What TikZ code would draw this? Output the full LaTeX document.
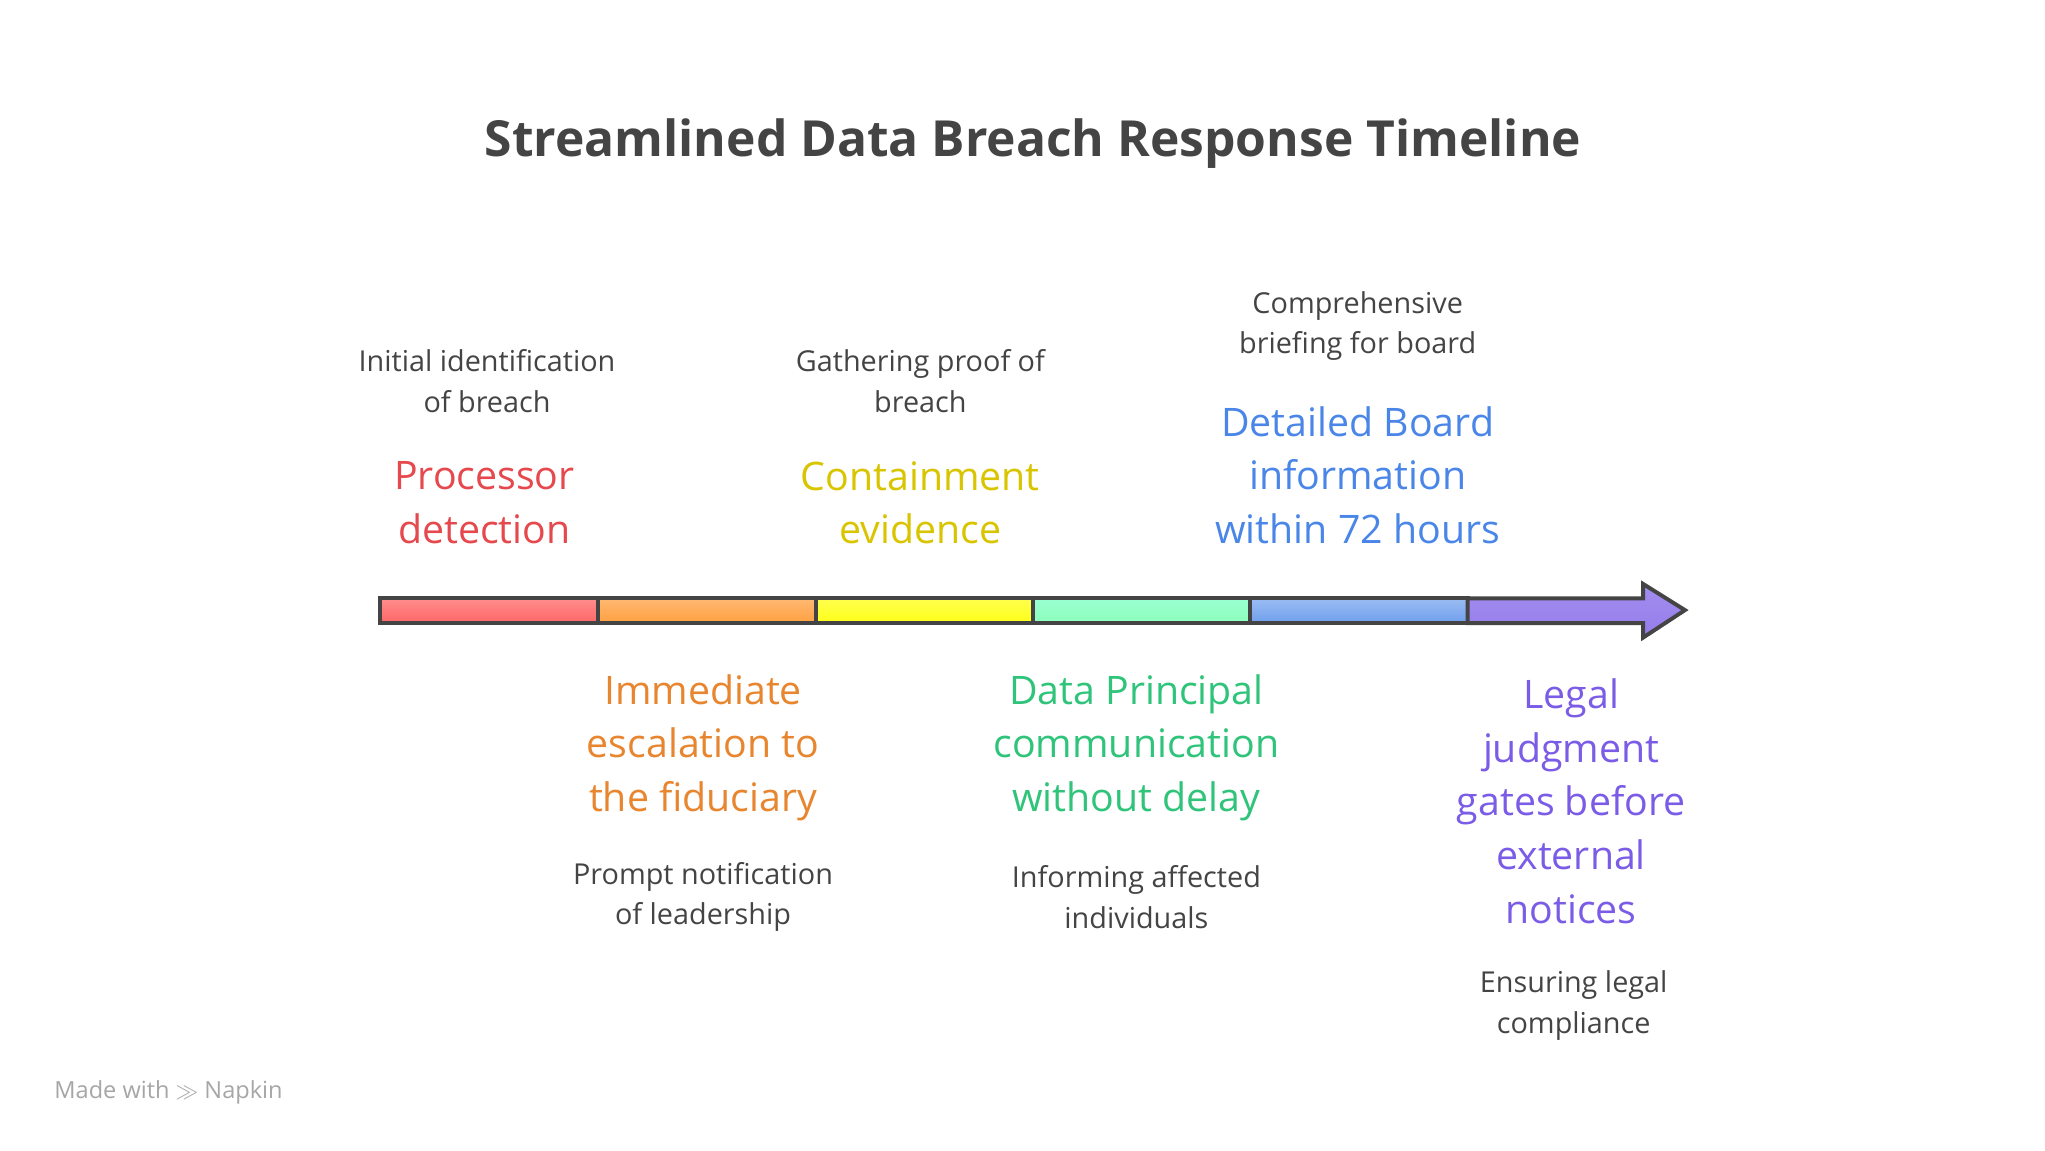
\documentclass[tikz,border=0pt]{standalone}
\usepackage{fontspec}
\setmainfont{Open Sans}
\usetikzlibrary{positioning, calc}
\definecolor{cred}{HTML}{E5484D}
\definecolor{corange}{HTML}{E8852F}
\definecolor{cyellow}{HTML}{D9C400}
\definecolor{cgreen}{HTML}{2FC47A}
\definecolor{cblue}{HTML}{4A86E8}
\definecolor{cpurple}{HTML}{7B5CE6}
\definecolor{ctext}{HTML}{444444}
\tikzset{
    head/.style={align=center, font=\fontsize{30}{41}\selectfont, text=#1},
    desc/.style={align=center, font=\fontsize{22}{31}\selectfont, text=ctext},
    seg/.style={draw=ctext, line width=3pt}
}
\begin{document}
\begin{tikzpicture}[x=1pt, y=-1pt]
    \useasboundingbox (0,0) rectangle (1562,879);

    % title
    \node[font=\fontsize{38}{48}\selectfont\bfseries, text=ctext] (title) at (789,110) {Streamlined Data Breach Response Timeline};

    % bar segments
    \foreach \xa/\xb/\ct/\cb in {
        290/457/red!45/red!60,
        457/623/orange!55/orange!75,
        623/789/yellow!70/yellow!90,
        789/955/green!45!cyan!40/green!60!cyan!45,
        955/1121/cblue!55/cblue!80}{
        \shade[top color=\ct, bottom color=\cb] (\xa,457) rectangle (\xb,476);
        \draw[seg] (\xa,457) rectangle (\xb,476);
    }
    \shade[top color=cpurple!70, bottom color=cpurple!80]
        (1121,457) -- (1255,457) -- (1255,446) -- (1287,466) -- (1255,487) -- (1255,476) -- (1121,476) -- cycle;
    \draw[ctext, line width=3pt, line join=miter]
        (1121,457) -- (1255,457) -- (1255,446) -- (1287,466) -- (1255,487) -- (1255,476) -- (1121,476) -- cycle;

    % above the bar
    \node[desc] (d1) at (372,291) {Initial identification\\of breach};
    \node[head=cred] (h1) at (370,384) {Processor\\detection};
    \node[desc] (d3) at (703,291) {Gathering proof of\\breach};
    \node[head=cyellow] (h3) at (703,384) {Containment\\evidence};
    \node[desc] (d5) at (1037,249) {Comprehensive\\briefing for board};
    \node[head=cblue] (h5) at (1037,363) {Detailed Board\\information\\within 72 hours};

    % below the bar
    \node[head=corange] (h2) at (537,571) {Immediate\\escalation to\\the fiduciary};
    \node[desc] (d2) at (537,685) {Prompt notification\\of leadership};
    \node[head=cgreen] (h4) at (868,571) {Data Principal\\communication\\without delay};
    \node[desc] (d4) at (868,685) {Informing affected\\individuals};
    \node[head=cpurple] (h6) at (1200,612) {Legal\\judgment\\gates before\\external\\notices};
    \node[desc] (d6) at (1202,768) {Ensuring legal\\compliance};

    % footer
    \node[anchor=west, font=\fontsize{18}{20}\selectfont, text=gray!70] (made) at (38,834) {Made with $\gg$ Napkin};
\end{tikzpicture}
\end{document}
